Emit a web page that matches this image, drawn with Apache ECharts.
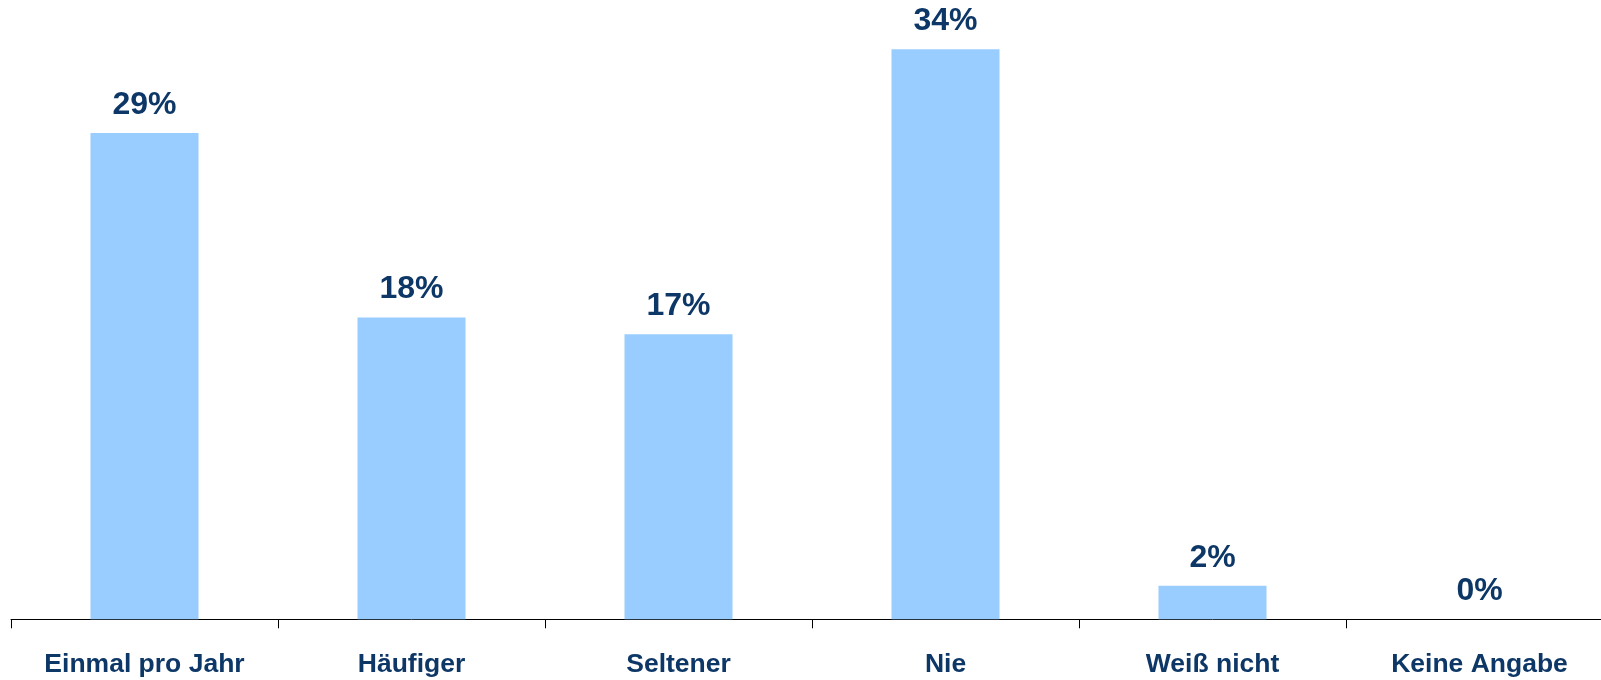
<!DOCTYPE html>
<html>
<head>
<meta charset="utf-8">
<script src="https://cdn.jsdelivr.net/npm/echarts@6/dist/echarts.min.js"></script>
<style>
html,body{margin:0;padding:0;background:#fff;overflow:hidden;width:1601px;height:680px;}
#chart{width:1613px;height:680px;}
</style>
</head>
<body>
<div id="chart"></div>
<script>
const categories = ["Einmal pro Jahr", "Häufiger", "Seltener", "Nie", "Weiß nicht", "Keine Angabe"];
const values = [29, 18, 17, 34, 2, 0];

const chart = echarts.init(document.getElementById('chart'), null, {renderer: 'canvas'});
chart.setOption({
  animation: false,
  backgroundColor: '#ffffff',
  grid: {left: 11, right: 0, top: 15.6, bottom: 60.7, containLabel: false},
  xAxis: {
    type: 'category',
    data: categories,
    axisLine: {show: true, lineStyle: {color: '#000000', width: 1}},
    axisTick: {show: true, length: 9, alignWithLabel: false, lineStyle: {color: '#000000'}},
    axisLabel: {
      interval: 0,
      margin: 32,
      color: '#0d3766',
      fontFamily: 'Liberation Sans, Arial, sans-serif',
      fontWeight: 'bold',
      fontSize: 26.5
    }
  },
  yAxis: {
    type: 'value',
    min: 0,
    max: 36,
    show: false,
    splitLine: {show: false}
  },
  series: [{
    type: 'bar',
    data: values,
    barWidth: 108,
    itemStyle: {color: '#99ccff'},
    label: {
      show: true,
      position: 'top',
      distance: 12,
      formatter: '{c}%',
      color: '#0d3766',
      fontFamily: 'Liberation Sans, Arial, sans-serif',
      fontWeight: 'bold',
      fontSize: 32
    }
  }]
});
</script>
</body>
</html>
